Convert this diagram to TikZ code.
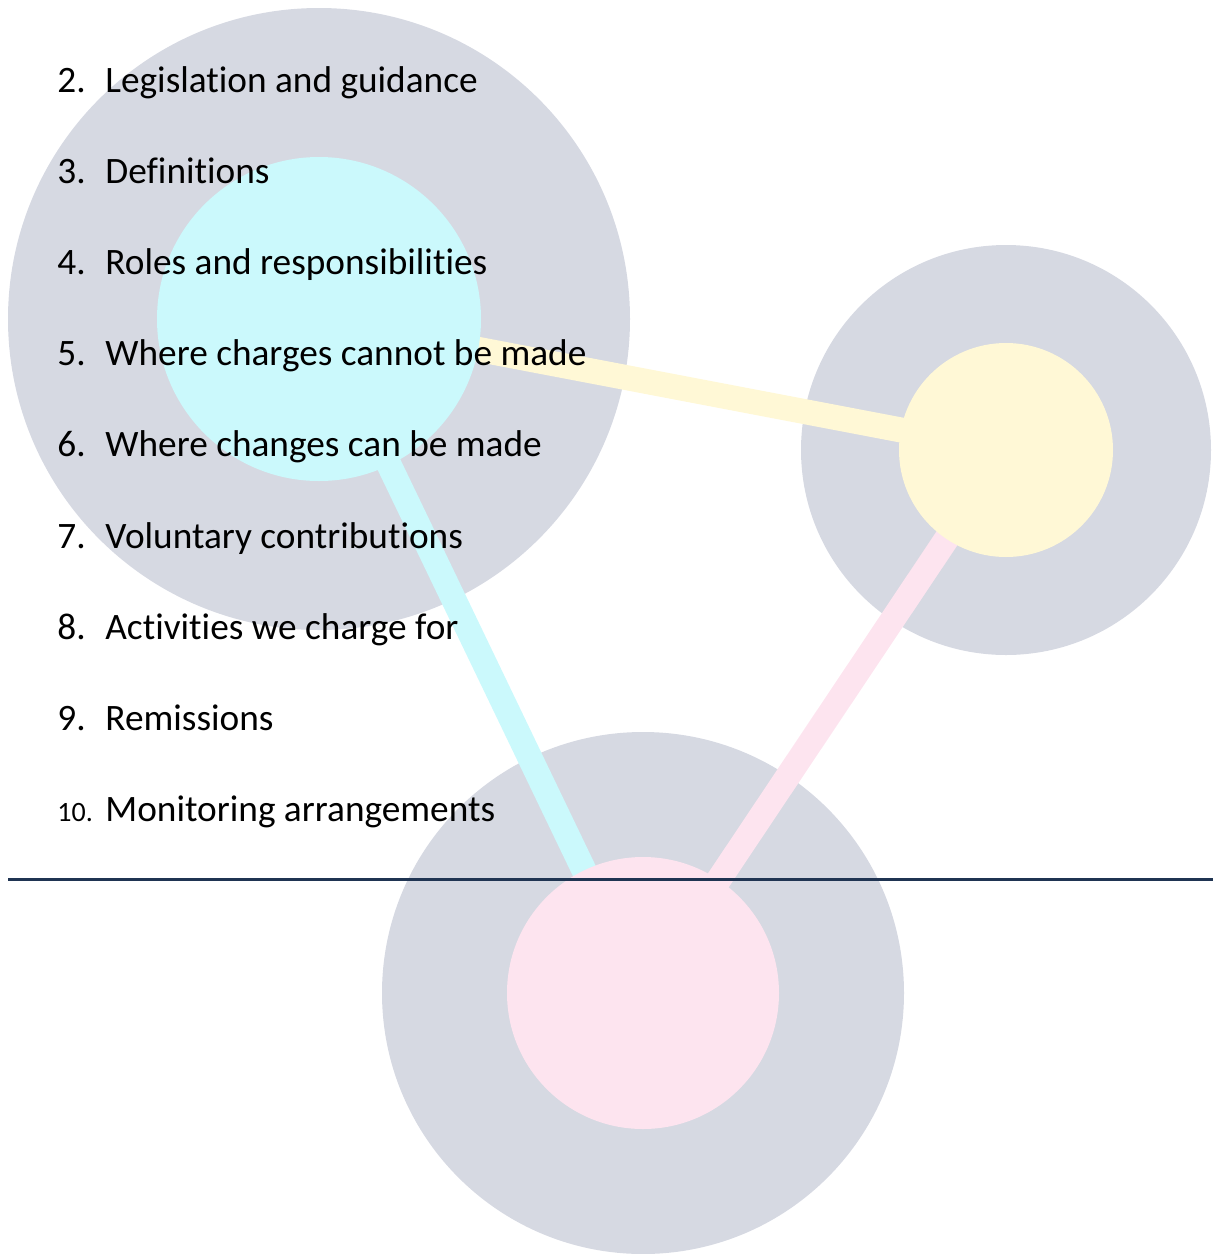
\documentclass[tikz,border=0pt]{standalone}
\usepackage{fontspec}
\setmainfont{Carlito}[Ligatures={NoCommon}]
\definecolor{ringgray}{HTML}{D6D9E2}
\definecolor{dotcyan}{HTML}{CBF9FC}
\definecolor{dotyellow}{HTML}{FFF8D6}
\definecolor{dotpink}{HTML}{FDE4EF}
\definecolor{rulenavy}{HTML}{1F3452}
\begin{document}
\begin{tikzpicture}[x=0.5pt,y=-0.5pt,
  disc/.style={circle,inner sep=0pt,outer sep=0pt,draw=none},
  band/.style={line width=12.5pt},
  num/.style={anchor=base west,inner sep=0pt,font=\fontsize{18.65}{22}\selectfont},
  item/.style={anchor=base west,inner sep=0pt,font=\fontsize{18.65}{22}\selectfont}]
\useasboundingbox (0,0) rectangle (1213,1254);
% outer gray rings
\node[disc,fill=ringgray,minimum size=311pt] (g1) at (319,319) {};
\node[disc,fill=ringgray,minimum size=205pt] (g2) at (1006,450) {};
\node[disc,fill=ringgray,minimum size=261pt] (g3) at (643,993) {};
% bands
\draw[band,dotyellow] (g1.center) -- (g2.center);
\draw[band,dotcyan] (g1.center) -- (g3.center);
\draw[band,dotpink] (g2.center) -- (g3.center);
% inner discs
\node[disc,fill=dotcyan,minimum size=162pt] (c1) at (g1.center) {};
\node[disc,fill=dotyellow,minimum size=107pt] (y2) at (g2.center) {};
\node[disc,fill=dotpink,minimum size=136pt] (p3) at (g3.center) {};
% rule
\coordinate (rl) at (8,879);
\coordinate (rr) at (1213,879);
\draw[rulenavy,line width=1.5pt] (rl) -- (rr);
% list
\node[num] (n2) at (57,92) {2.};
\node[item] (t2) at (105,92) {Legislation and guidance};
\node[num] (n3) at (57,183) {3.};
\node[item] (t3) at (105,183) {Definitions};
\node[num] (n4) at (57,274) {4.};
\node[item] (t4) at (105,274) {Roles and responsibilities};
\node[num] (n5) at (57,365) {5.};
\node[item] (t5) at (105,365) {Where charges cannot be made};
\node[num] (n6) at (57,456) {6.};
\node[item] (t6) at (105,456) {Where changes can be made};
\node[num] (n7) at (57,548) {7.};
\node[item] (t7) at (105,548) {Voluntary contributions};
\node[num] (n8) at (57,639) {8.};
\node[item] (t8) at (105,639) {Activities we charge for};
\node[num] (n9) at (57,730) {9.};
\node[item] (t9) at (105,730) {Remissions};
\node[num,font=\fontsize{14}{16}\selectfont] (n10) at (57,821) {10.};
\node[item] (t10) at (105,821) {Monitoring arrangements};
\end{tikzpicture}
\end{document}
